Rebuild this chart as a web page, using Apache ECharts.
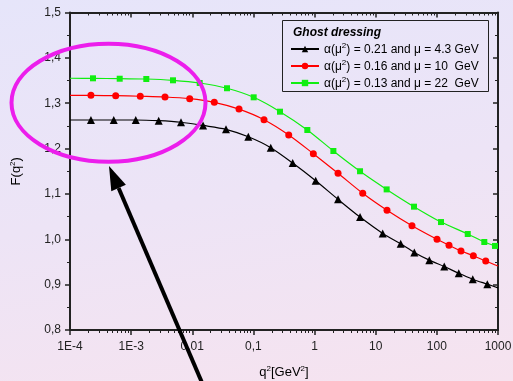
<!DOCTYPE html>
<html>
<head>
<meta charset="utf-8">
<script src="https://cdn.jsdelivr.net/npm/echarts@6/dist/echarts.min.js"></script>
<style>
html,body{margin:0;padding:0;}
#c{width:513px;height:381px;background:linear-gradient(170deg,#e6e5fa 0%,#ede4f6 50%,#f6e3ef 100%);}
</style>
</head>
<body>
<div id="c"></div>
<script>
// ---- data ----
const xTickLabels = ["1E-4","1E-3","0,01","0,1","1","10","100","1000"];
const seriesNames = [
  "α(μ{s|2}) = 0.21 and μ = 4.3 GeV",
  "α(μ{s|2}) = 0.16 and μ = 10  GeV",
  "α(μ{s|2}) = 0.13 and μ = 22  GeV"
];
const blackQ = [1e-4, 2.2e-4, 5.2e-4, 1.19e-3, 2.82e-3, 6.54e-3, 0.015, 0.0356, 0.0825, 0.192, 0.439, 1.044, 2.42, 5.54, 13.0, 25.6, 42.8, 75.3, 132, 228, 386, 669, 1000];
const blackF = [1.263, 1.263, 1.263, 1.263, 1.2615, 1.258, 1.251, 1.2425, 1.226, 1.202, 1.168, 1.129, 1.088, 1.049, 1.013, 0.990, 0.971, 0.954, 0.940, 0.925, 0.912, 0.901, 0.893];
const redQ = [1e-4, 2.2e-4, 5.59e-4, 1.41e-3, 3.58e-3, 9.07e-3, 0.0229, 0.0581, 0.149, 0.378, 0.954, 2.42, 6.13, 15.3, 39.2, 100.6, 158, 248, 395, 630, 1000];
const redF = [1.3175, 1.3175, 1.3166, 1.3153, 1.3137, 1.310, 1.302, 1.287, 1.2637, 1.230, 1.1887, 1.1455, 1.1014, 1.064, 1.030, 1.000, 0.9868, 0.9742, 0.9638, 0.952, 0.941];
const greenQ = [1e-4, 2.38e-4, 6.50e-4, 1.77e-3, 4.84e-3, 0.01322, 0.037, 0.101, 0.272, 0.761, 2.03, 5.54, 15.1, 42.3, 117, 320, 597, 894, 1000];
const greenF = [1.355, 1.3549, 1.354, 1.3534, 1.3505, 1.3446, 1.333, 1.313, 1.2813, 1.241, 1.1947, 1.150, 1.110, 1.0719, 1.038, 1.0117, 0.994, 0.9853, 0.984];

function build(q, f) {
  return q.map((x, i) => {
    const item = {value: [x, f[i]]};
    if (i === 0 || i === q.length - 1) item.symbol = 'none';
    return item;
  });
}

const axisColor = '#222';
const lineAx = {show: true, onZero: false, lineStyle: {color: axisColor, width: 2, opacity: 1}};
const chart = echarts.init(document.getElementById('c'), null, {renderer: 'canvas'});
const supRich = {s: {fontSize: 8, verticalAlign: 'top', color: '#000', padding: [0, 0, 7, 0]}};

chart.setOption({
  backgroundColor: 'transparent',
  animation: false,
  textStyle: {fontFamily: 'Liberation Sans, Arial, sans-serif'},
  title: {
    text: 'Ghost dressing', left: 293, top: 27, padding: 0,
    textStyle: {fontSize: 12, fontWeight: 'bold', fontStyle: 'italic', color: '#000'}
  },
  legend: {
    orient: 'vertical', left: 290, top: 42, padding: 0, itemWidth: 28, itemHeight: 8, itemGap: 3,
    data: seriesNames,
    textStyle: {fontSize: 12, color: '#000', padding: [2, 0, 0, 0],
      rich: {s: {fontSize: 8, verticalAlign: 'top', color: '#000', padding: [0, 0, 8, 0]}}}
  },
  grid: {left: 70, right: 15, top: 12.5, bottom: 51, show: false, containLabel: false, outerBoundsMode: 'none'},
  xAxis: [{
    type: 'log', logBase: 10, min: 1e-4, max: 1000, position: 'bottom',
    name: 'q{s|2}[GeV{s|2}]', nameLocation: 'middle', nameGap: 35,
    nameTextStyle: {fontSize: 13, color: '#000', rich: supRich},
    axisLine: lineAx,
    axisTick: {show: true, inside: false, length: 5, lineStyle: {color: axisColor, width: 1.5}},
    minorTick: {show: true, splitNumber: 9, length: 3, lineStyle: {color: axisColor, width: 1}},
    axisLabel: {show: true, margin: 11, fontSize: 12, color: '#222',
      formatter: v => xTickLabels[Math.round(Math.log10(v)) + 4]},
    splitLine: {show: false}
  }, {
    type: 'log', logBase: 10, min: 1e-4, max: 1000, position: 'top',
    axisLine: lineAx,
    axisTick: {show: true, inside: true, length: 5, lineStyle: {color: axisColor, width: 1.5}},
    minorTick: {show: true, splitNumber: 9, length: 3, lineStyle: {color: axisColor, width: 1}},
    axisLabel: {show: false},
    splitLine: {show: false}
  }],
  yAxis: [{
    type: 'value', min: 0.8, max: 1.5, interval: 0.1, position: 'left',
    name: 'F(q{s|2})', nameLocation: 'middle', nameGap: 46, nameRotate: 90,
    nameTextStyle: {fontSize: 13, color: '#000', rich: supRich},
    axisLine: lineAx,
    axisTick: {show: true, inside: false, length: 5, lineStyle: {color: axisColor, width: 1.5}},
    minorTick: {show: true, splitNumber: 2, length: 3, lineStyle: {color: axisColor, width: 1}},
    axisLabel: {margin: 9, fontSize: 12, color: '#222', formatter: v => v.toFixed(1).replace('.', ',')},
    splitLine: {show: false}
  }, {
    type: 'value', min: 0.8, max: 1.5, interval: 0.1, position: 'right',
    axisLine: lineAx,
    axisTick: {show: true, inside: true, length: 5, lineStyle: {color: axisColor, width: 1.5}},
    minorTick: {show: true, splitNumber: 2, length: 3, lineStyle: {color: axisColor, width: 1}},
    axisLabel: {show: false},
    splitLine: {show: false}
  }],
  series: [{
    name: seriesNames[0], type: 'line', smooth: 0.3, data: build(blackQ, blackF),
    symbol: 'triangle', symbolSize: 8, color: '#000', lineStyle: {width: 1.2, color: '#000'}
  }, {
    name: seriesNames[1], type: 'line', smooth: 0.3, data: build(redQ, redF),
    symbol: 'circle', symbolSize: 7, color: '#ff0000', lineStyle: {width: 1.2, color: '#ff0000'}
  }, {
    name: seriesNames[2], type: 'line', smooth: 0.3, data: build(greenQ, greenF),
    symbol: 'rect', symbolSize: 6, color: '#11ee11', lineStyle: {width: 1.2, color: '#11ee11'}
  }],
  graphic: [
    {type: 'rect', shape: {x: 282.5, y: 20.5, width: 206, height: 71}, style: {fill: 'none', stroke: '#222', lineWidth: 1}, z: 10},
    {type: 'ellipse', shape: {cx: 108.5, cy: 102.7, rx: 97, ry: 59}, style: {fill: 'none', stroke: '#ec1eec', lineWidth: 4}, z: 20},
    {type: 'line', shape: {x1: 203, y1: 385, x2: 118.6, y2: 188}, style: {stroke: '#000', lineWidth: 4}, z: 20},
    {type: 'polygon', shape: {points: [[109, 166], [125.9, 184.8], [111.3, 191.2]]}, style: {fill: '#000'}, z: 20}
  ]
});
</script>
</body>
</html>
